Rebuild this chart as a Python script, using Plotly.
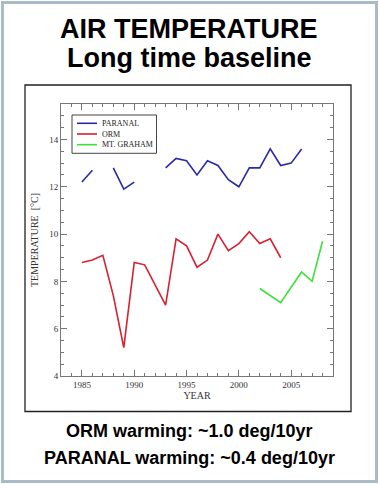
import plotly.graph_objects as go

# ---- data ----
years = list(range(1985, 2009))
paranal = [12.2, 12.7, None, 12.8, 11.9, 12.2, None, None, 12.8, 13.2, 13.1, 12.5,
           13.1, 12.9, 12.3, 12.0, 12.8, 12.8, 13.6, 12.9, 13.0, 13.6, None, None]
orm = [8.8, 8.9, 9.1, 7.4, 5.2, 8.8, 8.7, 7.85, 7.0, 9.8, 9.5, 8.6,
       8.9, 10.0, 9.3, 9.6, 10.1, 9.6, 9.8, 9.0, None, None, None, None]
mt_graham = [None] * 17 + [7.7, 7.4, 7.1, 7.75, 8.4, 8.0, 9.7]
series_names = ["PARANAL", "ORM", "MT. GRAHAM"]
series_colors = ["#2a2aa8", "#d82030", "#3ce03c"]
title_lines = ["AIR TEMPERATURE", "Long time baseline"]
notes = ["ORM warming: ~1.0 deg/10yr", "PARANAL warming: ~0.4 deg/10yr"]

W, H = 379, 484
L, R, T, B = 61, 333, 104, 376

def px(x):
    return (x - L) / (R - L)

def py(y):
    return (B - y) / (B - T)

fig = go.Figure()
for name, vals, col in zip(series_names, [paranal, orm, mt_graham], series_colors):
    fig.add_trace(go.Scatter(x=years, y=vals, mode="lines", name=name,
                             line=dict(color=col, width=1.6), connectgaps=False,
                             showlegend=False))

serif = "Liberation Serif"
axis_common = dict(showline=True, linecolor="#777", linewidth=1, mirror="allticks",
                   ticks="inside", tickcolor="#777", ticklen=6, showgrid=False,
                   zeroline=False, tickfont=dict(family=serif, size=9, color="#333"))
fig.update_xaxes(range=[1983, 2009], dtick=5, tick0=1985,
                 minor=dict(ticks="inside", dtick=1, ticklen=3, tickcolor="#777"),
                 title=dict(text="YEAR", font=dict(family=serif, size=10, color="#333"), standoff=2),
                 **axis_common)
fig.update_yaxes(range=[4, 15.5], dtick=2, tick0=4,
                 minor=dict(ticks="inside", dtick=0.5, ticklen=3, tickcolor="#777"),
                 title=dict(text="TEMPERATURE  [°C]", font=dict(family=serif, size=10, color="#333"), standoff=8),
                 **axis_common)

shapes = [
    dict(type="rect", xref="paper", yref="paper", x0=px(2.5), x1=px(376.5),
         y0=py(481.5), y1=py(2.5), line=dict(color="#a8bcc6", width=3), layer="below"),
    dict(type="rect", xref="paper", yref="paper", x0=px(25), x1=px(351),
         y0=py(411.5), y1=py(85), line=dict(color="#222", width=1.3), layer="below"),
    # legend box
    dict(type="rect", xref="paper", yref="paper", x0=px(72), x1=px(156.5),
         y0=py(153.3), y1=py(115), line=dict(color="#444", width=1), fillcolor="white"),
]
annotations = []
legend_rows = [123.3, 134, 144.7]
for name, col, ry in zip(series_names, series_colors, legend_rows):
    shapes.append(dict(type="line", xref="paper", yref="paper", x0=px(77), x1=px(97),
                       y0=py(ry), y1=py(ry), line=dict(color=col, width=1.6)))
    annotations.append(dict(text=name, x=px(99.5), xref="paper", xanchor="left",
                            y=py(ry), yref="paper", yanchor="middle", showarrow=False,
                            font=dict(family=serif, size=8, color="#222")))

for txt, yy, sz in [(title_lines[0], 29, 27), (title_lines[1], 58, 27),
                    (notes[0], 431, 18), (notes[1], 458, 18)]:
    annotations.append(dict(text="<b>%s</b>" % txt, x=px(189), xref="paper", xanchor="center",
                            y=py(yy), yref="paper", yanchor="middle", showarrow=False,
                            font=dict(family="Liberation Sans", size=sz, color="#000")))

fig.update_layout(
    width=W, height=H, margin=dict(l=L, r=W - R, t=T, b=H - B, pad=0),
    paper_bgcolor="white", plot_bgcolor="white",
    shapes=shapes, annotations=annotations,
    showlegend=False,
)
fig.write_html("out.html", config={"displayModeBar": False},
               post_script="document.body.style.margin='0';")
